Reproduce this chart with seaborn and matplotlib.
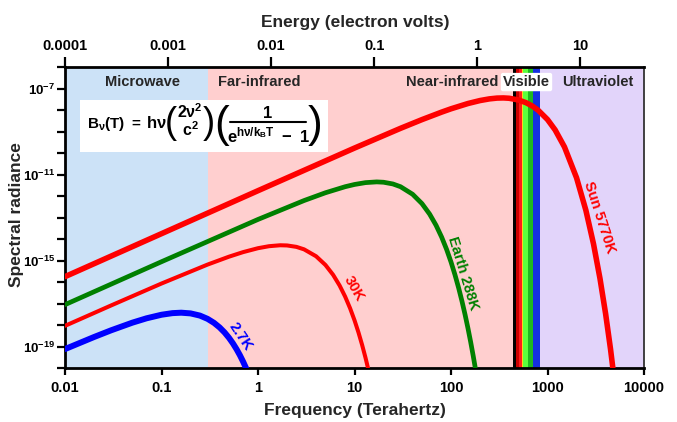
import numpy as np
import pandas as pd
import matplotlib
matplotlib.use("Agg")
import matplotlib.pyplot as plt
import matplotlib.patches as mpatches
import matplotlib.lines as mlines
from matplotlib.ticker import FixedLocator, FixedFormatter, NullLocator
import seaborn as sns

# ---------------- data ----------------
# frequencies in THz, spectral radiance as log10 values
freq_2p7 = [0.01, 0.02, 0.03, 0.05, 0.07, 0.1, 0.13, 0.16, 0.2, 0.25, 0.3, 0.35, 0.4,
            0.45, 0.5, 0.55, 0.6, 0.65, 0.7, 0.75, 0.8]
log_2p7 = [-19.120, -18.559, -18.248, -17.890, -17.689, -17.523, -17.448, -17.428,
           -17.460, -17.562, -17.714, -17.900, -18.113, -18.345, -18.594, -18.856,
           -19.129, -19.410, -19.700, -19.996, -20.297]

freq_30 = [0.01, 0.03, 0.1, 0.3, 0.5, 0.7, 1, 1.3, 1.7, 2, 2.5, 3, 4, 5, 6, 7, 8, 9,
           10, 11, 12, 13, 14]
log_30 = [-18.039, -17.092, -16.071, -15.190, -14.823, -14.611, -14.428, -14.335,
          -14.291, -14.300, -14.366, -14.481, -14.803, -15.208, -15.665, -16.159,
          -16.680, -17.221, -17.779, -18.349, -18.931, -19.521, -20.119]

freq_288 = [0.01, 0.1, 1, 3, 5, 8, 10, 13, 17, 20, 25, 30, 40, 50, 60, 70, 80, 90,
            100, 110, 120, 130, 140, 150, 160, 170, 180]
log_288 = [-17.054, -15.057, -13.090, -12.212, -11.849, -11.568, -11.464, -11.378,
           -11.344, -11.360, -11.440, -11.568, -11.919, -12.353, -12.839, -13.362,
           -13.912, -14.482, -15.068, -15.668, -16.278, -16.897, -17.524, -18.158,
           -18.798, -19.443, -20.092]

freq_sun = [0.01, 1, 10, 30, 50, 80, 100, 150, 200, 250, 300, 350, 400, 500, 600,
            700, 800, 1000, 1200, 1500, 2000, 2500, 3000, 3500, 4000, 4500, 5000]
log_sun = [-15.751, -11.753, -9.770, -8.852, -8.447, -8.098, -7.944, -7.698, -7.560,
           -7.483, -7.446, -7.439, -7.454, -7.534, -7.661, -7.823, -8.011, -8.443,
           -8.928, -9.721, -11.153, -12.668, -14.236, -15.842, -17.474, -19.126,
           -20.795]

curve_names = ["2.7K", "30K", "Earth 288K", "Sun 5770K"]

# spectral regions (THz)
region_names = ["Microwave", "Far-infrared", "Ultraviolet"]
region_edges = [(0.01, 0.3), (0.3, 440), (840, 10000)]
visible_edges = [440, 472, 507, 541, 561, 628, 710, 840]

# tick labels
freq_ticks = [0.01, 0.1, 1, 10, 100, 1000, 10000]
freq_ticklabels = ["0.01", "0.1", "1", "10", "100", "1000", "10000"]
energy_ticks = [0.0001, 0.001, 0.01, 0.1, 1, 10]
energy_ticklabels = ["0.0001", "0.001", "0.01", "0.1", "1", "10"]
rad_ticks = [1e-7, 1e-11, 1e-15, 1e-19]
rad_ticklabels = [r"$\mathregular{10^{-7}}$", r"$\mathregular{10^{-11}}$",
                  r"$\mathregular{10^{-15}}$", r"$\mathregular{10^{-19}}$"]

# ---------------- style ----------------
sns.set_style("ticks")
plt.rcParams["font.family"] = ["Liberation Sans", "DejaVu Sans"]
plt.rcParams["font.weight"] = "bold"
plt.rcParams["mathtext.fontset"] = "custom"
plt.rcParams["mathtext.rm"] = "Liberation Sans:bold"
plt.rcParams["mathtext.it"] = "Liberation Sans:bold"
plt.rcParams["mathtext.bf"] = "Liberation Sans:bold"
plt.rcParams["mathtext.sf"] = "Liberation Sans:bold"

W, H = 677, 422
fig = plt.figure(figsize=(W / 100, H / 100), dpi=100)
L, R, T, B = 65, 644, 67, 368
ax = fig.add_axes([L / W, 1 - B / H, (R - L) / W, (B - T) / H])
ax.set_xscale("log")
ax.set_yscale("log")
ax.set_xlim(0.01, 10000)
ax.set_ylim(1e-20, 1e-6)


def fx(px):
    return px / W


def fy(py):
    return 1 - py / H


# backgrounds
bg_colors = ["#CCE2F7", "#FFCFCF", "#E2D4FA"]
for (a, b), c in zip(region_edges, bg_colors):
    ax.axvspan(a, b, color=c, lw=0, zorder=0)
vis_colors = ["#000000", "#CC0000", "#FF1A1A", "#FFD21A", "#5CFF3C", "#1FB81F",
              "#1530E0"]
for i, c in enumerate(vis_colors):
    ax.axvspan(visible_edges[i], visible_edges[i + 1], color=c, lw=0, zorder=1)

# curves
curves = [
    (freq_2p7, log_2p7, "#0000FF", 4.3),
    (freq_30, log_30, "#FF0000", 2.9),
    (freq_288, log_288, "#008000", 3.4),
    (freq_sun, log_sun, "#FF0000", 4.0),
]
for (fxs, ly, col, lw), name in zip(curves, curve_names):
    df = pd.DataFrame({"freq": fxs, "rad": np.power(10.0, ly)})
    sns.lineplot(data=df, x="freq", y="rad", ax=ax, color=col, linewidth=lw,
                 estimator=None, sort=False, zorder=3)
ax.set_xlabel("")
ax.set_ylabel("")

# curve labels
ax.text(0.66, 3.0e-19, curve_names[0], color="#0000FF", fontsize=10.5, rotation=-56,
        ha="center", va="center", zorder=4)
ax.text(9.9, 5.0e-17, curve_names[1], color="#FF0000", fontsize=10.5, rotation=-60,
        ha="center", va="center", zorder=4)
ax.text(133, 2.5e-16, curve_names[2], color="#008000", fontsize=10.5, rotation=-73,
        ha="center", va="center", zorder=4)
ax.text(3420, 1.0e-13, curve_names[3], color="#FF0000", fontsize=10.5, rotation=-72,
        ha="center", va="center", zorder=4)

# region labels
ylab = 0.95
xt = ax.get_xaxis_transform()
ax.text(0.063, ylab, "Microwave", transform=xt, fontsize=10.5,
        ha="center", va="center", zorder=4)
ax.text(0.385, ylab, "Far-infrared", transform=xt, fontsize=10.5,
        ha="left", va="center", zorder=4)
ax.text(102, ylab, "Near-infrared", transform=xt, fontsize=10.5,
        ha="center", va="center", zorder=4)
ax.text(606, ylab, "Visible", transform=xt, fontsize=10.5,
        ha="center", va="center", zorder=4,
        bbox=dict(boxstyle="round,pad=0.15", fc="white", ec="none"))
ax.text(3335, ylab, "Ultraviolet", transform=xt, fontsize=10.5,
        ha="center", va="center", zorder=4)

# formula box
box = mpatches.Rectangle((fx(80), fy(152)), 248 / W, 52 / H,
                         transform=fig.transFigure, facecolor="white",
                         edgecolor="none", zorder=5, clip_on=False)
ax.add_patch(box)
fkw = dict(zorder=6, color="black")
pkw = dict(zorder=6, color="black", fontweight="normal", ha="center", va="center")
fig.text(fx(87), fy(128), r"$\mathregular{B_{\nu}(T)\ =}$", fontsize=11,
         ha="left", va="baseline", **fkw)
fig.text(fx(146), fy(128), r"$\mathregular{h\nu}$", fontsize=12,
         ha="left", va="baseline", **fkw)
fig.text(fx(171), fy(124), "(", fontsize=26, **pkw)
fig.text(fx(190), fy(118), r"$\mathregular{2\nu^{2}}$", fontsize=11.5,
         ha="center", va="baseline", **fkw)
fig.text(fx(190), fy(136), r"$\mathregular{c^{2}}$", fontsize=11.5,
         ha="center", va="baseline", **fkw)
fig.text(fx(209), fy(124), ")", fontsize=26, **pkw)
fig.text(fx(222), fy(125), "(", fontsize=32, **pkw)
fig.text(fx(268), fy(118), "1", fontsize=12, ha="center", va="baseline", **fkw)
fig.add_artist(mlines.Line2D([fx(230), fx(306)], [fy(122), fy(122)], color="black",
                             linewidth=1.5, zorder=6))
fig.text(fx(268), fy(142), r"$\mathregular{e^{h\nu/k_{B}T}\ -\ 1}$", fontsize=12,
         ha="center", va="baseline", **fkw)
fig.text(fx(315), fy(125), ")", fontsize=32, **pkw)

# axes ticks
ax.xaxis.set_major_locator(FixedLocator(freq_ticks))
ax.xaxis.set_major_formatter(FixedFormatter(freq_ticklabels))
ax.xaxis.set_minor_locator(NullLocator())
ax.yaxis.set_major_locator(FixedLocator(rad_ticks))
ax.yaxis.set_major_formatter(FixedFormatter(rad_ticklabels))
ax.yaxis.set_minor_locator(FixedLocator([10.0 ** k for k in range(-20, -5)]))
ax.tick_params(axis="x", which="major", length=5, width=1.6, labelsize=10.5,
               pad=4, direction="out", colors="black")
ax.tick_params(axis="y", which="both", length=6, width=1.6, labelsize=9.5, pad=1,
               direction="out", colors="black")
ax.tick_params(axis="y", which="minor", labelleft=False)

for s in ["left", "bottom", "top"]:
    ax.spines[s].set_linewidth(2.0)
    ax.spines[s].set_color("black")
    ax.spines[s].set_visible(True)
ax.spines["right"].set_linewidth(1.3)
ax.spines["right"].set_color("#333333")
ax.spines["right"].set_visible(True)

# top energy axis
ax2 = ax.twiny()
ax2.set_xscale("log")
ax2.set_xlim(1e-4, 10 ** 1.62)
ax2.xaxis.set_major_locator(FixedLocator(energy_ticks))
ax2.xaxis.set_major_formatter(FixedFormatter(energy_ticklabels))
ax2.xaxis.set_minor_locator(NullLocator())
ax2.tick_params(axis="x", which="major", length=7, width=1.6, labelsize=10.5, pad=3,
                direction="out", colors="black")
for s in ax2.spines.values():
    s.set_visible(False)

# axis titles
fig.text(fx((L + R) / 2), fy(410), "Frequency (Terahertz)", fontsize=12.5,
         ha="center", va="center")
fig.text(fx(355), fy(22), "Energy (electron volts)", fontsize=12.5,
         ha="center", va="center")
fig.text(fx(17), fy(215), "Spectral radiance", fontsize=12.5, rotation=90,
         ha="center", va="center")

fig.savefig("out.png", dpi=100)
